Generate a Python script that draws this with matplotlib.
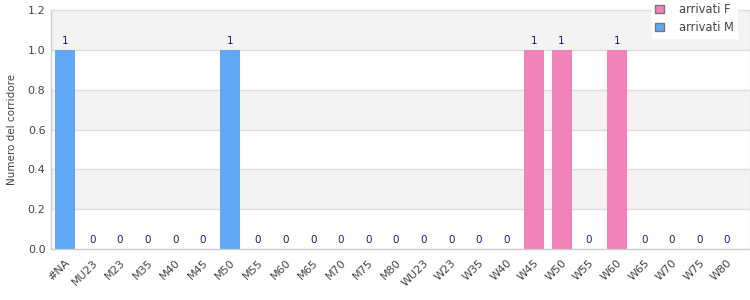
import matplotlib
matplotlib.use("Agg")
import matplotlib.pyplot as plt
import numpy as np

# data
categorie = ["#NA", "MU23", "M23", "M35", "M40", "M45", "M50", "M55", "M60",
             "M65", "M70", "M75", "M80", "WU23", "W23", "W35", "W40", "W45",
             "W50", "W55", "W60", "W65", "W70", "W75", "W80"]
arrivati_m = [1, 0, 0, 0, 0, 0, 1, 0, 0, 0, 0, 0, 0, 0, 0, 0, 0, 0,
              0, 0, 0, 0, 0, 0, 0]
arrivati_f = [0, 0, 0, 0, 0, 0, 0, 0, 0, 0, 0, 0, 0, 0, 0, 0, 0, 1,
              1, 0, 1, 0, 0, 0, 0]
yticks = [0.0, 0.2, 0.4, 0.6, 0.8, 1.0, 1.2]

col_m = "#5fa8f6"
col_f = "#f283ba"
grid_c = "#dddddd"
txt_c = "#444444"

plt.rc("font", family="DejaVu Sans")

fig = plt.figure(figsize=(7.5, 3), dpi=100)
ax = fig.add_axes([51 / 750, 1 - 249 / 300, 699 / 750, 239 / 300])

x = np.arange(len(categorie))
m = np.array(arrivati_m)
f = np.array(arrivati_f)

# alternating bands
for i in range(len(yticks) - 1):
    if i % 2 == 1:
        ax.axhspan(yticks[i], yticks[i + 1], color="#f3f3f3", zorder=0, lw=0)
for y in yticks[1:-1]:
    ax.axhline(y, color=grid_c, lw=1, zorder=1)

ax.bar(x, m, width=0.725, color=col_m, zorder=2, label="arrivati M")
ax.bar(x, f, width=0.725, bottom=m, color=col_f, zorder=2, label="arrivati F")

tot = m + f
for xi, t in zip(x, tot):
    ax.annotate(str(int(t)), (xi, t), xytext=(0, 3), textcoords="offset points",
                ha="center", va="bottom", fontsize=7.5, color="#1a1a8c")

ax.set_xlim(-0.5, len(categorie) - 1 + 0.83)
ax.set_ylim(0, 1.2)
ax.set_yticks(yticks)
ax.set_yticklabels(["%.1f" % v for v in yticks])
ax.set_xticks(x)
ax.set_xticklabels(categorie, rotation=45, ha="right", rotation_mode="anchor")
ax.tick_params(length=0, labelsize=8, colors=txt_c, pad=4)
ax.tick_params(axis="x", pad=6)
ax.set_ylabel("Numero del corridore", fontsize=7.5, color=txt_c, labelpad=8)

for s in ax.spines.values():
    s.set_color(grid_c)
    s.set_linewidth(1)
ax.spines["bottom"].set_color("#cccccc")
ax.spines["left"].set_color("#cccccc")

h, l = ax.get_legend_handles_labels()
leg = fig.legend(h[::-1], l[::-1], loc="upper left", bbox_to_anchor=(652 / 750, 1.0),
                 fontsize=8.3, frameon=True, fancybox=False, framealpha=1,
                 edgecolor="white", handlelength=0.7, handleheight=0.7,
                 handletextpad=1.3, borderpad=0.3, labelspacing=0.4,
                 borderaxespad=0)
for p in leg.get_patches():
    p.set_edgecolor("#777777")
    p.set_linewidth(1)
for t in leg.get_texts():
    t.set_color(txt_c)

fig.savefig("out.png", dpi=100)
